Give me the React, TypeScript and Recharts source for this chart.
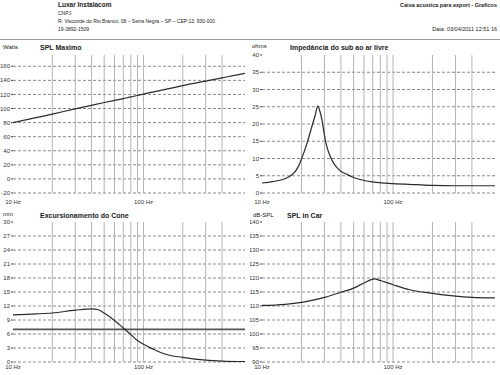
import React from "react";
import { LineChart, Line, XAxis, YAxis, CartesianGrid, ReferenceLine } from "recharts";

// ---------- data ----------
const xTickValues = [10, 100];
const gridFreqs = [20, 30, 40, 50, 60, 70, 80, 90, 100, 200, 300, 400];

const splMaxFreqs = [10, 15, 20, 30, 40, 50, 60, 70, 80, 90, 100, 150, 200, 300, 400, 500, 600];
const splMaxValues = [80, 87, 92, 99.5, 104.5, 108.5, 111.5, 114, 116.5, 118.5, 120.5, 127.5, 132.5, 139, 143.5, 147, 150];
const splMaxTicks = [-20, 0, 20, 40, 60, 80, 100, 120, 140, 160];

const impFreqs = [10, 12, 14.6, 16.4, 17.3, 18.5, 19.5, 21, 22.5, 24, 25.5, 26.6, 27.5, 28.6, 29.5, 30.3, 31.5, 33, 35, 37.2, 40, 44, 50, 56, 70, 100, 150, 200, 300, 600];
const impValues = [2.9, 3.3, 4.0, 4.9, 5.6, 7.0, 8.8, 12, 15.5, 19.2, 22.6, 25.2, 24, 21.4, 18.3, 15.6, 13, 10.8, 8.8, 7.4, 6.3, 5.5, 4.5, 3.9, 3.2, 2.7, 2.4, 2.2, 2.1, 2.1];
const impTicks = [0, 5, 10, 15, 20, 25, 30, 35, 40];

const excFreqs = [10, 15, 20, 30, 40, 45, 50, 60, 70, 80, 90, 100, 120, 150, 200, 300, 400, 600];
const excValues = [10.1, 10.3, 10.5, 11.1, 11.4, 11.2, 10.5, 8.9, 7.3, 5.9, 4.6, 3.8, 2.7, 1.6, 1.0, 0.4, 0.2, 0.1];
const excTicks = [0, 3, 6, 9, 12, 15, 18, 21, 24, 27, 30];
const xmaxValue = 7;

const carFreqs = [10, 15, 20, 25, 30, 40, 50, 60, 72, 80, 100, 134, 200, 300, 400, 600];
const carValues = [110.2, 110.6, 111.3, 112.2, 113.1, 114.9, 116.4, 118.2, 119.7, 119.1, 117.6, 115.8, 114.5, 113.5, 113.1, 112.9];
const carTicks = [90, 95, 100, 105, 110, 115, 120, 125, 130, 135, 140];

const FONT = '"Liberation Sans", Arial, sans-serif';

type PanelProps = {
  left: number;
  top: number;
  height: number;
  marginTop: number;
  yWidth: number;
  freqs: number[];
  values: number[];
  domain: [number, number];
  ticks: number[];
  gridTicks: number[];
  xAxisHeight: number;
  xTickSize: number;
  xTickMargin: number;
  refY?: number;
};

function Panel(p: PanelProps) {
  const data = p.freqs.map((f, i) => ({ f, v: p.values[i] }));
  return (
    <div style={{ position: "absolute", left: p.left, top: p.top }}>
      <LineChart
        width={250}
        height={p.height}
        data={data}
        margin={{ top: p.marginTop, right: 5, left: 0, bottom: 3 }}
      >
        <CartesianGrid
          vertical={false}
          horizontalValues={p.gridTicks}
          stroke="#8a8a8a"
          strokeDasharray="3 2"
        />
        {gridFreqs.map((g) => (
          <ReferenceLine key={g} x={g} stroke="#b4b4b4" strokeWidth={1} />
        ))}
        <XAxis
          dataKey="f"
          type="number"
          scale="log"
          domain={[10, 600]}
          allowDataOverflow
          ticks={xTickValues}
          interval={0}
          tickFormatter={(f: number) => (f === 10 ? "10 Hz" : f === 100 ? "100 Hz" : "")}
          axisLine={false}
          tickLine={false}
          tickSize={p.xTickSize}
          tickMargin={p.xTickMargin}
          height={p.xAxisHeight}
          tick={{ fontSize: 6, fill: "#333", fontFamily: FONT }}
        />
        <YAxis
          type="number"
          domain={p.domain}
          allowDataOverflow
          ticks={p.ticks}
          interval={0}
          width={p.yWidth}
          axisLine={false}
          tickLine={{ stroke: "#444" }}
          tickSize={2}
          tickMargin={1}
          tick={{ fontSize: 6, fill: "#333", fontFamily: FONT }}
        />
        {p.refY !== undefined && (
          <ReferenceLine y={p.refY} stroke="#555" strokeWidth={1.6} />
        )}
        <Line
          dataKey="v"
          type="monotone"
          stroke="#2a2a2a"
          strokeWidth={1.2}
          dot={false}
          isAnimationActive={false}
        />
      </LineChart>
    </div>
  );
}

const txt = (
  s: string,
  left: number,
  cy: number,
  size: number,
  bold = false,
  right?: number
): React.ReactElement => (
  <div
    style={{
      position: "absolute",
      left: right === undefined ? left : undefined,
      right: right,
      top: cy - size / 2,
      fontSize: size,
      lineHeight: `${size}px`,
      fontWeight: bold ? "bold" : "normal",
      color: "#222",
      whiteSpace: "nowrap",
      fontFamily: FONT,
    }}
  >
    {s}
  </div>
);

export default function App() {
  return (
    <div
      style={{
        position: "fixed",
        left: 0,
        top: 0,
        width: 500,
        height: 375,
        background: "#fff",
        overflow: "hidden",
        fontFamily: FONT,
      }}
    >
      {txt("Luxar Instalacom", 58, 5.5, 6.5, true)}
      {txt("CNPJ:", 58, 13, 5)}
      {txt("R: Visconde do Rio Branco, 08 – Serra Negra – SP – CEP:13. 930-000", 58, 21, 5)}
      {txt("19-3892-1509", 58, 29, 5)}
      {txt("Caixa acustica para export - Graficos", 0, 6, 5.5, true, 3)}
      {txt("Data: 03/04/2011 12:51:16", 0, 29.5, 5.5, false, 3)}
      <div style={{ position: "absolute", left: 0, top: 39, width: 500, height: 1, background: "#9a9a9a" }} />

      {txt("Watts", 3, 47, 6)}
      {txt("SPL Maximo", 40, 47.5, 7, true)}
      {txt("ohms", 252, 46, 6)}
      {txt("Impedância do sub ao ar livre", 290, 47, 7, true)}
      {txt("mm", 3, 214, 6)}
      {txt("Excursionamento do Cone", 40, 215, 7, true)}
      {txt("dB-SPL", 253, 215, 6)}
      {txt("SPL in Car", 287, 215, 7, true)}

      <Panel
        left={0}
        top={40}
        height={170}
        marginTop={15}
        yWidth={13}
        freqs={splMaxFreqs}
        values={splMaxValues}
        domain={[-20, 176]}
        ticks={splMaxTicks}
        gridTicks={splMaxTicks}
        xAxisHeight={14}
        xTickSize={5}
        xTickMargin={2}
      />
      <Panel
        left={250}
        top={40}
        height={170}
        marginTop={15}
        yWidth={12}
        freqs={impFreqs}
        values={impValues}
        domain={[0, 40]}
        ticks={impTicks}
        gridTicks={impTicks.slice(0, -1)}
        xAxisHeight={14}
        xTickSize={5}
        xTickMargin={2}
      />
      <Panel
        left={0}
        top={208}
        height={167}
        marginTop={14}
        yWidth={13}
        freqs={excFreqs}
        values={excValues}
        domain={[0, 30]}
        ticks={excTicks}
        gridTicks={excTicks.slice(0, -1)}
        xAxisHeight={10}
        xTickSize={2}
        xTickMargin={1}
        refY={xmaxValue}
      />
      <Panel
        left={250}
        top={208}
        height={167}
        marginTop={14}
        yWidth={12}
        freqs={carFreqs}
        values={carValues}
        domain={[90, 140]}
        ticks={carTicks}
        gridTicks={carTicks.slice(0, -1)}
        xAxisHeight={10}
        xTickSize={2}
        xTickMargin={1}
      />
    </div>
  );
}
